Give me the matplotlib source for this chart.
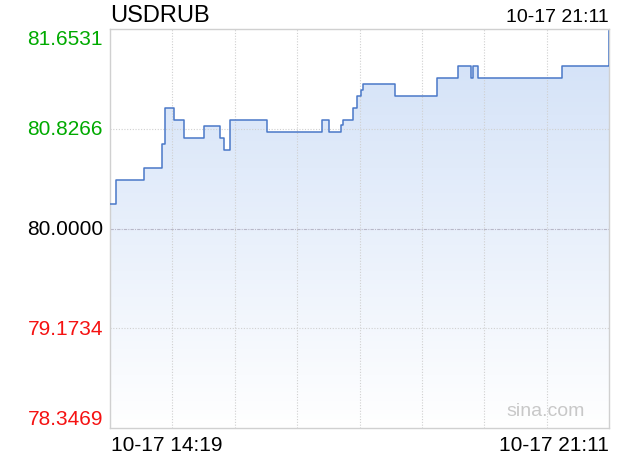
# USDRUB intraday line (sina style)
import matplotlib
matplotlib.use('Agg')
import matplotlib.pyplot as plt
import matplotlib.transforms as mtransforms
import numpy as np
import pandas as pd

plt.rcParams['font.family'] = ['Liberation Sans', 'DejaVu Sans']

symbol = 'USDRUB'
prev_close = 80.0000
y_ticks = [78.3469, 79.1734, 80.0000, 80.8266, 81.6531]
tick_colors = ['#f51212', '#f51212', '#000000', '#00aa00', '#00aa00']
start_label = '10-17 14:19'
end_label = '10-17 21:11'

# change points (time, price), drawn as steps
times = ['14:19', '14:24', '14:47', '15:02', '15:04', '15:12', '15:20', '15:37',
         '15:50', '15:53', '15:58', '16:29', '17:14', '17:20', '17:30', '17:31',
         '17:40', '17:43', '17:46', '17:48', '18:14', '18:49', '19:06', '19:17',
         '19:19', '19:23', '20:32', '21:10', '21:11']
prices = [80.20, 80.40, 80.50, 80.70, 81.00, 80.90, 80.75, 80.85,
          80.75, 80.65, 80.90, 80.80, 80.90, 80.80, 80.86, 80.90,
          81.00, 81.10, 81.15, 81.20, 81.10, 81.25, 81.35, 81.25,
          81.35, 81.25, 81.35, 81.35, 81.64]

t = pd.to_datetime(['2024-10-17 ' + s for s in times])
mins = np.array((t - t[0]).total_seconds() / 60.0)
p = np.array(prices)

# expand steps so fill follows the line
xs = np.repeat(mins, 2)[1:]
ys = np.repeat(p, 2)[:-1]

fig = plt.figure(figsize=(6.2, 4.6), dpi=100)
ax = fig.add_axes([110/620, 31/460, 499/620, 399/460])
ymin, ymax = y_ticks[0], y_ticks[-1]
ax.set_xlim(0, mins[-1])
ax.set_ylim(ymin, ymax)

# gradient fill under line (blue at top, white at bottom)
grad = np.linspace(0, 1, 256).reshape(-1, 1)
top_c = np.array([0.82, 0.88, 0.97])
img = top_c[None, None, :] * (1 - grad[:, :, None]) + np.ones(3)[None, None, :] * grad[:, :, None]
im = ax.imshow(img, extent=[0, mins[-1], ymin, ymax], origin='upper',
               aspect='auto', zorder=1)
clip = plt.Polygon(np.column_stack([np.r_[xs, xs[-1], xs[0]], np.r_[ys, ymin, ymin]]),
                   transform=ax.transData, facecolor='none', edgecolor='none')
ax.add_patch(clip)
im.set_clip_path(clip)
ax.set_xlim(0, mins[-1])
ax.set_ylim(ymin, ymax)

ax.plot(xs, ys, color='#4a78c8', lw=1.1, zorder=3)

# grid
for v in np.linspace(0, mins[-1], 9)[1:-1]:
    ax.axvline(v, color='#d0d0d0', lw=0.8, ls=(0, (1, 1.5)), zorder=2)
for v in y_ticks[1:-1]:
    if v == prev_close:
        ax.axhline(v, color='#b8b8c8', lw=0.8, ls=(0, (3, 1, 1, 1)), zorder=2)
    else:
        ax.axhline(v, color='#d0d0d0', lw=0.8, ls=(0, (1, 1.5)), zorder=2)

for s in ax.spines.values():
    s.set_color('#d0d0d0')
    s.set_linewidth(1)
ax.set_xticks([])
ax.set_yticks([])

trans = mtransforms.blended_transform_factory(fig.transFigure, ax.transData)
for i, (v, c) in enumerate(zip(y_ticks, tick_colors)):
    va = 'center'
    if i == 0:
        va = 'bottom'
    elif i == len(y_ticks) - 1:
        va = 'top'
    ax.text(103/620, v, f'{v:.4f}', color=c, fontsize=15, ha='right', va=va,
            transform=trans)

fig.text(110/620, 1 - 16/460, symbol, fontsize=17, ha='left', va='center')
fig.text(609/620, 1 - 17/460, end_label, fontsize=14, ha='right', va='center')
fig.text(111/620, 1 - 446/460, start_label, fontsize=15, ha='left', va='center')
fig.text(609/620, 1 - 446/460, end_label, fontsize=15, ha='right', va='center')
fig.text(546/620, 1 - 412/460, 'sina.com', fontsize=14, color='#c8c8c8',
         ha='center', va='center')

fig.savefig('out.png', dpi=100)
